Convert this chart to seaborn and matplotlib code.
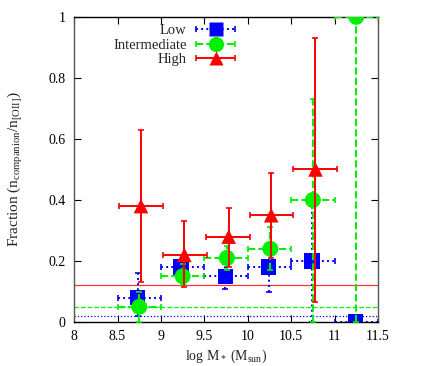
import numpy as np
import pandas as pd
import matplotlib
matplotlib.use("Agg")
import matplotlib.pyplot as plt
from matplotlib.container import ErrorbarContainer
from matplotlib.legend_handler import HandlerErrorbar
import seaborn as sns

# ---- data ----
low_x = [8.73, 9.23, 9.74, 10.24, 10.74, 11.24]
low_y = [0.08, 0.18, 0.15, 0.18, 0.20, 0.00]
low_ylo = [0.02, 0.16, 0.11, 0.10, 0.00, 0.00]
low_yhi = [0.16, 0.20, 0.19, 0.25, 0.38, 0.00]
low_xlo = [8.50, 9.00, 9.50, 10.00, 10.50, 11.00]
low_xhi = [9.00, 9.50, 10.00, 10.50, 11.00, 11.50]

int_x = [8.75, 9.25, 9.76, 10.26, 10.75, 11.25]
int_y = [0.05, 0.15, 0.21, 0.24, 0.40, 1.00]
int_ylo = [0.00, 0.12, 0.17, 0.17, 0.00, 0.00]
int_yhi = [0.10, 0.19, 0.25, 0.31, 0.73, 1.00]
int_xlo = [8.50, 9.00, 9.50, 10.00, 10.50, 11.00]
int_xhi = [9.00, 9.50, 10.00, 10.50, 11.00, 11.50]

high_x = [8.77, 9.27, 9.78, 10.27, 10.78]
high_y = [0.38, 0.22, 0.28, 0.35, 0.50]
high_ylo = [0.13, 0.115, 0.18, 0.21, 0.067]
high_yhi = [0.63, 0.33, 0.375, 0.49, 0.93]
high_xlo = [8.52, 9.02, 9.52, 10.03, 10.52]
high_xhi = [9.02, 9.53, 10.03, 10.52, 11.03]

ref_low, ref_int, ref_high = 0.02, 0.05, 0.12

labels = ["Low", "Intermediate", "High"]

sns.set_theme(style="ticks")
plt.rcParams['font.family'] = ['Liberation Serif', 'DejaVu Serif']
plt.rcParams['mathtext.fontset'] = 'custom'
plt.rcParams['mathtext.rm'] = 'Liberation Serif'
plt.rcParams['mathtext.it'] = 'Liberation Serif:italic'
plt.rcParams['font.size'] = 9

fig = plt.figure(figsize=(4.36, 3.66), dpi=100)
ax = fig.add_axes([0.170, 0.120, 0.697, 0.834])

series = [
    (labels[0], low_x, low_y, low_ylo, low_yhi, low_xlo, low_xhi, '#0000ff', 's', ':', ref_low, 11.0),
    (labels[1], int_x, int_y, int_ylo, int_yhi, int_xlo, int_xhi, '#00f000', 'o', '--', ref_int, 11.5),
    (labels[2], high_x, high_y, high_ylo, high_yhi, high_xlo, high_xhi, '#ff0000', '^', '-', ref_high, 10.5),
]

handles = []
for i, (lab, x, y, ylo, yhi, xlo, xhi, col, mk, ls, ref, ms) in enumerate(series):
    x = np.array(x); y = np.array(y)
    yerr = np.vstack([y - np.array(ylo), np.array(yhi) - y])
    xerr = np.vstack([x - np.array(xlo), np.array(xhi) - x])
    z = 2 + i
    ax.axhline(ref, color=col, ls=ls, lw=0.9, zorder=1, alpha=0.8 if ls == '-' else 1)
    eb = ax.errorbar(x, y, yerr=yerr, xerr=xerr, fmt='none', ecolor=col,
                     elinewidth=1.4, capsize=2.5, capthick=1.2, zorder=z)
    for lc in eb[2]:
        lc.set_linestyle(ls)
    df = pd.DataFrame({"x": x, "y": y})
    sns.scatterplot(data=df, x="x", y="y", ax=ax, marker=mk, color=col,
                    s=ms ** 2, edgecolor='none', linewidth=0, zorder=z + 0.5,
                    legend=False)
    # proxy for legend (horizontal bar with caps + marker)
    pe = ax.errorbar([-10], [-10], xerr=[[0.1], [0.1]], fmt=mk, color=col,
                     ms=ms * 0.95, mec='none', elinewidth=1.4, capsize=2.5,
                     capthick=1.2, label=lab)
    for lc in pe[2]:
        lc.set_linestyle(ls)
    handles.append(pe)

ax.set_xlim(8, 11.5)
ax.set_ylim(0, 1)
ax.set_xticks([8, 8.5, 9, 9.5, 10, 10.5, 11, 11.5])
ax.set_yticks([0, 0.2, 0.4, 0.6, 0.8, 1.0])
ax.xaxis.set_major_formatter(matplotlib.ticker.FormatStrFormatter('%g'))
ax.yaxis.set_major_formatter(matplotlib.ticker.FormatStrFormatter('%g'))
ax.tick_params(direction='in', length=5, width=0.8, top=True, right=True,
               labelsize=10, colors='black', pad=6)
for s in ['top', 'bottom']:
    ax.spines[s].set_color('black')
for s in ['left', 'right']:
    ax.spines[s].set_color('#555555')
for s in ax.spines.values():
    s.set_linewidth(1.0)
    s.set_visible(True)

ax.set_xlabel(r"log M$_*$ (M$_{\rm sun}$)", fontsize=10, labelpad=3)
ax.set_ylabel(r"Fraction (n$_{\rm companion}$/n$_{\rm [OII]}$)", fontsize=11, labelpad=17)

leg = ax.legend(handles=handles, labels=labels, loc='upper right',
                bbox_to_anchor=(0.555, 0.995), frameon=False, markerfirst=False,
                handlelength=2.9, labelspacing=0.08, handletextpad=0.55,
                fontsize=10.5, borderaxespad=0.0, borderpad=0.4,
                handler_map={ErrorbarContainer: HandlerErrorbar(xerr_size=1.35)})

fig.savefig("out.png", dpi=100)
